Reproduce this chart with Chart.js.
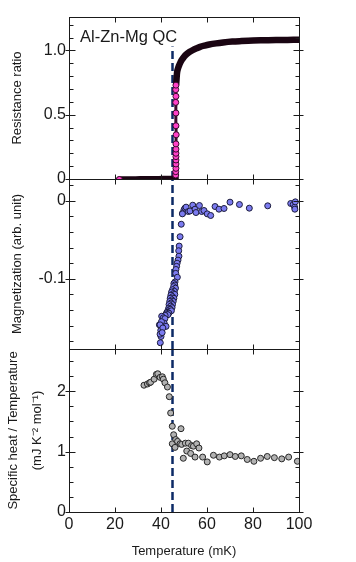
<!DOCTYPE html>
<html><head><meta charset="utf-8">
<script src="https://cdn.jsdelivr.net/npm/chart.js@4.4.1/dist/chart.umd.min.js"></script>
<style>
html,body{margin:0;padding:0;background:#fff;}
#wrap{position:relative;width:356px;height:562px;background:#fff;}
canvas{position:absolute;left:0;top:0;}
</style></head><body>
<div id="wrap">
<canvas id="cR" width="356" height="562"></canvas>
<canvas id="cM" width="356" height="562"></canvas>
<canvas id="cC" width="356" height="562"></canvas>
</div>
<script>
// ---------- data ----------
const xTicks = [0, 20, 40, 60, 80, 100];
const xLabels = ['0', '20', '40', '60', '80', '100'];
const tcLine = 45;           // dashed transition line (mK)
const resDashTop = 1.03;

// Resistance ratio
const resFlatT = [21.9, 23, 25, 27, 29, 31, 33, 35, 37, 39, 41, 43, 45, 46.3];
const resFlatR = [-0.004, -0.004, -0.003, -0.003, -0.003, -0.002, -0.002, -0.002, -0.001, -0.001, 0, 0, 0.002, 0.01];
const resJumpT = [46.4, 46.4, 46.5, 46.5, 46.5, 46.5, 46.5, 46.5, 46.5, 46.6, 46.5, 46.5, 46.4, 46.5, 46.4, 46.5];
const resJumpR = [0.031, 0.057, 0.083, 0.117, 0.148, 0.174, 0.2, 0.232, 0.273, 0.344, 0.414, 0.513, 0.596, 0.643, 0.695, 0.73];
const resCurveT = [46.6, 46.8, 47.0, 47.4, 47.9, 48.4, 49.0, 50.0, 51.2, 52.5, 54.0, 55.5, 57.0, 59.0, 61.0, 64.0, 67.0, 71.0, 75.0, 80.0, 85.0, 90.0, 95.0, 100.0];
const resCurveR = [0.74, 0.79, 0.83, 0.86, 0.885, 0.905, 0.925, 0.95, 0.972, 0.99, 1.005, 1.017, 1.028, 1.038, 1.046, 1.055, 1.062, 1.069, 1.073, 1.077, 1.079, 1.081, 1.082, 1.083];
const resStartT = [21.9];
const resStartR = [-0.004];
const resTicks = [0, 0.5, 1.0];
const resLabels = ['0', '0.5', '1.0'];
const resMinor = [0.1, 0.2, 0.3, 0.4, 0.6, 0.7, 0.8, 0.9, 1.1, 1.2];

// Magnetization
const magT = [49.4, 50.0, 50.4, 50.9, 51.9, 52.6, 53.8, 54.8, 55.2, 56.7, 57.7, 58.7, 60.1, 61.6, 63.5, 65.2, 67.4, 70.0, 74.1, 78.4, 86.4, 96.4, 97.5, 98.1, 98.2, 98.4,
  49.3, 48.8, 48.3, 47.9, 47.7, 47.8, 47.4, 47.0, 46.8, 46.5, 46.4, 47.1, 46.1, 45.6,
  46.0, 45.5, 46.3, 45.0, 45.8, 44.6, 45.3, 46.0, 44.3, 45.0, 45.6, 44.0, 44.7, 45.3, 43.8, 44.4, 45.0, 43.5, 44.2, 44.8, 43.3, 44.0, 43.0, 43.7, 44.5, 42.6, 43.4, 42.2, 43.0, 41.8,
  40.3, 41.0, 41.7, 39.3, 41.4, 40.2, 39.9, 42.2, 39.6, 40.8, 40.0, 39.6, 39.7, 40.5];
const magM = [-0.0158, -0.0115, -0.0094, -0.0081, -0.0137, -0.0130, -0.0056, -0.0107, -0.0150, -0.0060, -0.0137, -0.0124, -0.0167, -0.0188, -0.0073, -0.0107, -0.0098, -0.0017, -0.0047, -0.0094, -0.0064, -0.0034, -0.0047, -0.0081, -0.0107, -0.0013,
  -0.0167, -0.030, -0.046, -0.058, -0.064, -0.071, -0.076, -0.080, -0.084, -0.088, -0.093, -0.098, -0.104, -0.106,
  -0.108, -0.110, -0.112, -0.114, -0.116, -0.117, -0.119, -0.120, -0.121, -0.123, -0.125, -0.125, -0.127, -0.129, -0.129, -0.131, -0.133, -0.133, -0.135, -0.137, -0.138, -0.139, -0.141, -0.142, -0.141, -0.143, -0.144, -0.145, -0.146, -0.147,
  -0.148, -0.150, -0.151, -0.159, -0.157, -0.155, -0.166, -0.161, -0.159, -0.163, -0.174, -0.171, -0.182, -0.169];
const magTicks = [-0.1, 0];
const magLabels = ['-0.1', '0'];
const magMinor = [0.02, -0.02, -0.04, -0.06, -0.08, -0.12, -0.14, -0.16, -0.18];

// Specific heat / Temperature
const chT = [32.6, 34.1, 35.0, 35.5, 37.0, 38.0, 38.6, 39.6, 40.6, 41.0, 41.7, 42.8, 43.6, 44.2, 44.9, 44.9, 45.5, 46.4, 46.1, 47.2, 48.3, 48.7, 49.0, 49.7, 50.6, 51.2, 51.9, 52.9, 53.3, 54.1, 54.8, 55.5, 56.5, 58.1, 60.1, 62.8, 65.4, 67.5, 70.0, 72.3, 74.9, 77.5, 80.4, 83.3, 86.2, 89.3, 92.5, 95.5, 99.3];
const chV = [2.10, 2.12, 2.14, 2.15, 2.20, 2.28, 2.29, 2.23, 2.24, 2.20, 2.14, 2.07, 1.91, 1.64, 1.42, 1.13, 1.28, 1.20, 1.07, 1.17, 1.13, 1.38, 1.12, 0.89, 1.14, 1.01, 1.14, 0.97, 1.10, 1.09, 0.91, 1.13, 1.06, 0.91, 0.83, 0.94, 0.91, 0.93, 0.95, 0.92, 0.93, 0.87, 0.84, 0.89, 0.92, 0.90, 0.88, 0.91, 0.84];
const chTicks = [0, 1, 2];
const chLabels = ['0', '1', '2'];
const chMinor = [0.25, 0.5, 0.75, 1.25, 1.5, 1.75, 2.25, 2.5];

// ---------- styling ----------
const INK = '#1a1a1a';
const FAM = '"Liberation Sans", Arial, Helvetica, sans-serif';
const DASH = '#0c2a66';
Chart.defaults.font.family = FAM;
Chart.defaults.color = INK;

const pts = (T, V) => T.map((t, i) => ({x: t, y: V[i]}));

const framePlugin = {
  id: 'frame',
  afterDatasetsDraw(chart, args, o) {
    const {ctx, chartArea: a} = chart;
    const xs = chart.scales.x, ys = chart.scales.y;
    const L = Math.round(a.left) + 0.5, R = Math.round(a.right) + 0.5;
    const T = Math.round(a.top) + 0.5, B = Math.round(a.bottom) + 0.5;
    ctx.save();
    ctx.strokeStyle = INK;
    ctx.lineWidth = 1;
    ctx.beginPath();
    (o.major || []).forEach(v => {
      const p = Math.round(ys.getPixelForValue(v)) + 0.5;
      ctx.moveTo(L - 4, p); ctx.lineTo(L + 6, p);
      ctx.moveTo(R - 6, p); ctx.lineTo(R + 4, p);
    });
    (o.minor || []).forEach(v => {
      const p = Math.round(ys.getPixelForValue(v)) + 0.5;
      ctx.moveTo(L, p); ctx.lineTo(L + 4, p);
      ctx.moveTo(R - 4, p); ctx.lineTo(R, p);
    });
    xTicks.forEach(v => {
      const p = Math.round(xs.getPixelForValue(v)) + 0.5;
      ctx.moveTo(p, T); ctx.lineTo(p, T + 5);
      ctx.moveTo(p, B); ctx.lineTo(p, B - 5);
    });
    ctx.stroke();
    ctx.strokeRect(L, T, R - L, B - T);
    if (o.label) {
      ctx.fillStyle = INK;
      ctx.font = '16.5px ' + FAM;
      ctx.textBaseline = 'alphabetic';
      ctx.textAlign = 'left';
      ctx.fillText(o.label, a.left + 11, a.top + 25);
    }
    ctx.restore();
  }
};

function makeChart(id, cfg) {
  const showX = !!cfg.showX;
  return new Chart(document.getElementById(id), {
    type: 'scatter',
    data: {datasets: cfg.datasets},
    plugins: [framePlugin],
    options: {
      responsive: false,
      devicePixelRatio: 1,
      animation: false,
      events: [],
      layout: {padding: {left: 0, right: 57, top: cfg.padTop, bottom: cfg.padBottom}},
      plugins: {
        legend: {display: false},
        tooltip: {enabled: false},
        frame: {major: cfg.yTicks, minor: cfg.yMinor, label: cfg.label}
      },
      scales: {
        x: {
          type: 'linear', min: 0, max: 100,
          display: showX,
          afterBuildTicks: s => { s.ticks = xTicks.map(v => ({value: v})); },
          afterFit: s => { s.height = showX ? 50 : 0; },
          ticks: {
            padding: 3, color: INK, font: {size: 16},
            callback: v => xLabels[xTicks.indexOf(v)]
          },
          grid: {display: false, drawTicks: false},
          border: {display: false},
          title: {display: true, text: 'Temperature (mK)', color: INK, font: {size: 13}, padding: {top: 0, bottom: 3}}
        },
        y: {
          type: 'linear', min: cfg.yMin, max: cfg.yMax,
          afterBuildTicks: s => { s.ticks = cfg.yTicks.map(v => ({value: v})); },
          afterFit: s => { s.width = 69; },
          ticks: {
            padding: 3, color: INK, font: {size: 16},
            callback: v => cfg.yLabels[cfg.yTicks.indexOf(v)]
          },
          grid: {display: false, drawTicks: false},
          border: {display: false},
          title: {display: true, text: cfg.yTitle, color: INK,
                  font: {size: 13, lineHeight: cfg.titleLH || 1.2},
                  padding: {top: cfg.titlePad, bottom: 0}}
        }
      }
    }
  });
}

function dashSet(y0, y1) {
  return {
    type: 'line', data: [{x: tcLine, y: y0}, {x: tcLine, y: y1}],
    borderColor: DASH, borderWidth: 2.5, borderDash: [8, 4],
    pointRadius: 0, order: 5, clip: false
  };
}

// Top: resistance ratio
makeChart('cR', {
  padTop: 17, padBottom: 383,
  yMin: 0, yMax: 1.26, yTicks: resTicks, yLabels: resLabels, yMinor: resMinor,
  yTitle: 'Resistance ratio', titlePad: 10, label: 'Al-Zn-Mg QC',
  datasets: [
    {data: pts(resStartT, resStartR).concat(pts(resJumpT, resJumpR)), showLine: false,
     pointRadius: 3, pointBorderWidth: 1, pointBackgroundColor: '#ff40c8', pointBorderColor: '#3a0a2c', order: 0},
    {data: pts(resJumpT, resJumpR), showLine: true, borderColor: '#3a0a2c', borderWidth: 3,
     pointRadius: 0, order: 1},
    {data: pts(resFlatT, resFlatR), showLine: true, borderColor: '#1a0512', borderWidth: 6.5,
     borderCapStyle: 'round', borderJoinStyle: 'round', pointRadius: 0, order: 2},
    {data: pts(resCurveT, resCurveR), showLine: true, borderColor: '#1a0512', borderWidth: 6.5,
     borderCapStyle: 'round', borderJoinStyle: 'round', cubicInterpolationMode: 'monotone',
     pointRadius: 0, order: 2},
    dashSet(0, resDashTop)
  ]
});

// Middle: magnetization
makeChart('cM', {
  padTop: 179, padBottom: 213,
  yMin: -0.19, yMax: 0.028, yTicks: magTicks, yLabels: magLabels, yMinor: magMinor,
  yTitle: 'Magnetization (arb. unit)', titlePad: 10,
  datasets: [
    {data: pts(magT, magM), showLine: false, pointRadius: 3, pointBorderWidth: 1,
     pointBackgroundColor: '#7b7bf0', pointBorderColor: '#1c1c3c', order: 0},
    dashSet(-0.19, 0.028)
  ]
});

// Bottom: specific heat / T
makeChart('cC', {
  padTop: 349, padBottom: 0, showX: true,
  yMin: 0, yMax: 2.7, yTicks: chTicks, yLabels: chLabels, yMinor: chMinor,
  yTitle: ['Specific heat / Temperature', '(mJ K\u207B\u00B2 mol\u207B\u00B9)'], titlePad: 1, titleLH: '24px',
  datasets: [
    {data: pts(chT, chV), showLine: false, pointRadius: 3, pointBorderWidth: 1,
     pointBackgroundColor: '#b2b2b2', pointBorderColor: '#262626', order: 0},
    dashSet(0, 2.7)
  ]
});
</script>
</body></html>
